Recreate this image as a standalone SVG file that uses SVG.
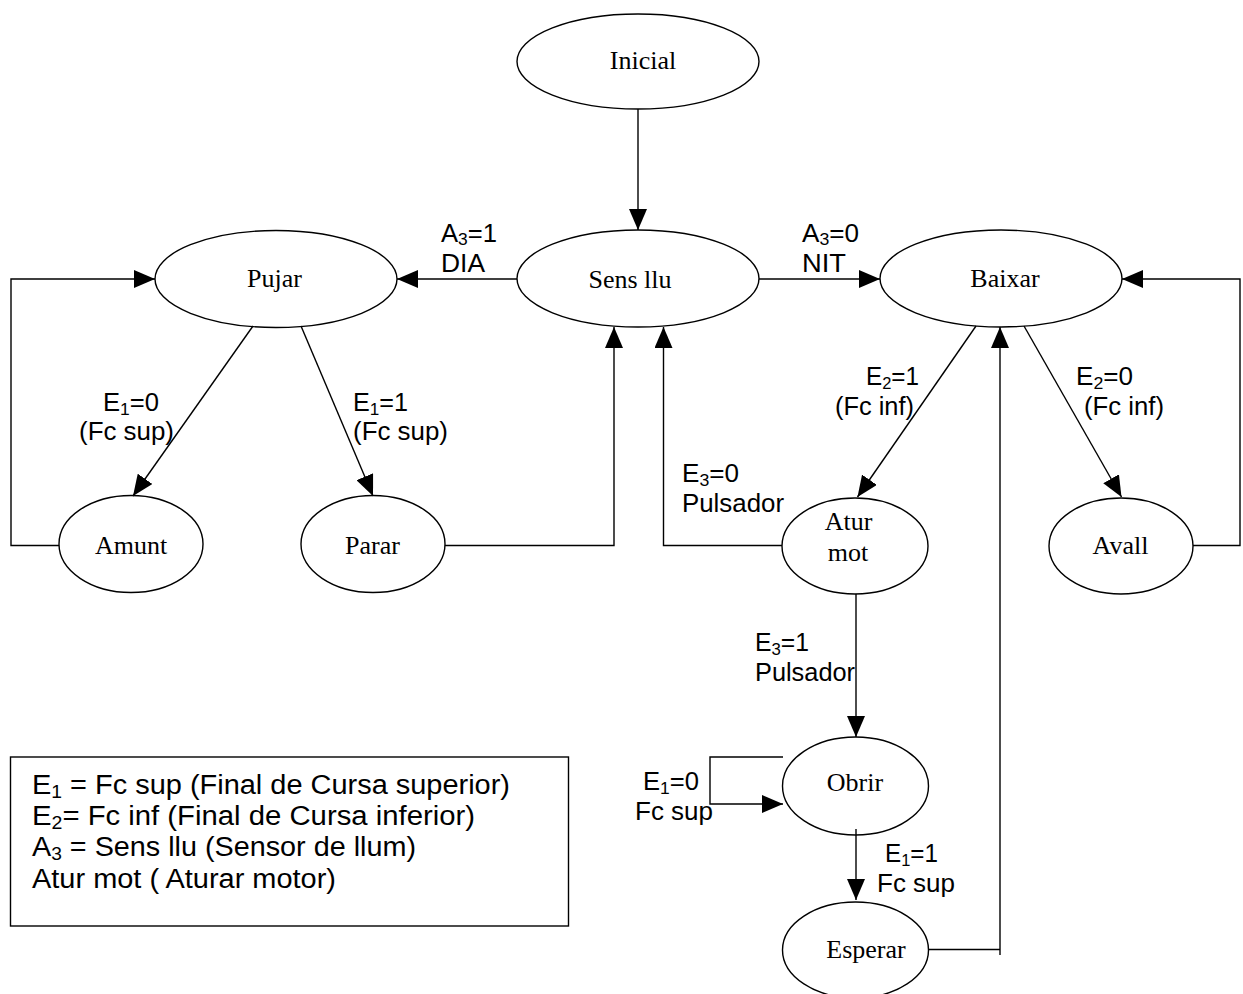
<svg xmlns="http://www.w3.org/2000/svg" width="1243" height="994" viewBox="0 0 1243 994">
<style>
.node ellipse{fill:#fff;stroke:#000;stroke-width:1.4}
.n{font-family:"Liberation Serif","Times New Roman",serif;font-size:26px;text-anchor:middle;fill:#000}
.c{fill:none;stroke:#000;stroke-width:1.4}
.l{font-family:"Liberation Sans",Arial,sans-serif;font-size:25px;fill:#000}
.lg{font-family:"Liberation Sans",Arial,sans-serif;font-size:27px;fill:#000}
.s{font-size:17px}
.s2{font-size:18px}
</style>
<defs>
<marker id="ah" markerUnits="userSpaceOnUse" markerWidth="21" markerHeight="18" refX="21" refY="9" orient="auto" viewBox="0 0 21 18">
<path d="M0,0 L21,9 L0,18 z" fill="#000"/>
</marker>
</defs>
<rect width="1243" height="994" fill="#fff"/>

<g id="node-inicial" class="node"><ellipse cx="638" cy="61.5" rx="121" ry="47.5"/><text class="n" x="643" y="69">Inicial</text></g>
<g id="node-sensllu" class="node"><ellipse cx="638" cy="278.5" rx="121" ry="48.5"/><text class="n" x="630" y="288">Sens llu</text></g>
<g id="node-pujar" class="node"><ellipse cx="276" cy="279" rx="121" ry="48.5"/><text class="n" x="274.5" y="287">Pujar</text></g>
<g id="node-baixar" class="node"><ellipse cx="1001" cy="278.5" rx="121" ry="48.5"/><text class="n" x="1005" y="287">Baixar</text></g>
<g id="node-amunt" class="node"><ellipse cx="131" cy="544" rx="72" ry="48.5"/><text class="n" x="131" y="554">Amunt</text></g>
<g id="node-parar" class="node"><ellipse cx="373" cy="544" rx="72" ry="48.5"/><text class="n" x="372.5" y="554">Parar</text></g>
<g id="node-aturmot" class="node"><ellipse cx="855" cy="546" rx="73" ry="48"/><text class="n" x="848.5" y="530">Atur</text><text class="n" x="848" y="561">mot</text></g>
<g id="node-avall" class="node"><ellipse cx="1121" cy="546" rx="72" ry="48"/><text class="n" x="1120.5" y="554">Avall</text></g>
<g id="node-obrir" class="node"><ellipse cx="855.5" cy="786" rx="73" ry="49"/><text class="n" x="855" y="791">Obrir</text></g>
<g id="node-esperar" class="node"><ellipse cx="855.5" cy="950" rx="73" ry="48"/><text class="n" x="866" y="958">Esperar</text></g>

<g id="connectors">
<path class="c" d="M638,109 V230" marker-end="url(#ah)"/>
<path class="c" d="M517,279 H397" marker-end="url(#ah)"/>
<path class="c" d="M759,279 H880" marker-end="url(#ah)"/>
<path class="c" d="M253,326 L133,496" marker-end="url(#ah)"/>
<path class="c" d="M301,326 L373,496" marker-end="url(#ah)"/>
<path class="c" d="M59,545.5 H11 V279 H155" marker-end="url(#ah)"/>
<path class="c" d="M445,545.5 H614 V327" marker-end="url(#ah)"/>
<path class="c" d="M976,326 L857.5,497" marker-end="url(#ah)"/>
<path class="c" d="M1024,326 L1121.5,497" marker-end="url(#ah)"/>
<path class="c" d="M1193,545.5 H1240 V279 H1122" marker-end="url(#ah)"/>
<path class="c" d="M782,545.5 H663.5 V327" marker-end="url(#ah)"/>
<path class="c" d="M856,594 V737" marker-end="url(#ah)"/>
<path class="c" d="M783,757 H710 V804 H783" marker-end="url(#ah)"/>
<path class="c" d="M856,829 V900" marker-end="url(#ah)"/>
<path class="c" d="M928,949.5 H1000"/>
<path class="c" d="M1000,955 V327" marker-end="url(#ah)"/>
</g>

<g id="labels">
<text class="l" x="441" y="242" textLength="56" lengthAdjust="spacingAndGlyphs">A<tspan class="s" dy="3">3</tspan><tspan dy="-3">=1</tspan></text>
<text class="l" x="441" y="272" textLength="44" lengthAdjust="spacingAndGlyphs">DIA</text>
<text class="l" x="802" y="242" textLength="57" lengthAdjust="spacingAndGlyphs">A<tspan class="s" dy="3">3</tspan><tspan dy="-3">=0</tspan></text>
<text class="l" x="802" y="272" textLength="44" lengthAdjust="spacingAndGlyphs">NIT</text>
<text class="l" x="103" y="411" textLength="56" lengthAdjust="spacingAndGlyphs">E<tspan class="s" dy="4">1</tspan><tspan dy="-4">=0</tspan></text>
<text class="l" x="79" y="440" textLength="95" lengthAdjust="spacingAndGlyphs">(Fc sup)</text>
<text class="l" x="353" y="411" textLength="55" lengthAdjust="spacingAndGlyphs">E<tspan class="s" dy="4">1</tspan><tspan dy="-4">=1</tspan></text>
<text class="l" x="353" y="440" textLength="95" lengthAdjust="spacingAndGlyphs">(Fc sup)</text>
<text class="l" x="866" y="385" textLength="53" lengthAdjust="spacingAndGlyphs">E<tspan class="s" dy="4">2</tspan><tspan dy="-4">=1</tspan></text>
<text class="l" x="835" y="415" textLength="79" lengthAdjust="spacingAndGlyphs">(Fc inf)</text>
<text class="l" x="1076" y="385" textLength="57" lengthAdjust="spacingAndGlyphs">E<tspan class="s" dy="4">2</tspan><tspan dy="-4">=0</tspan></text>
<text class="l" x="1084" y="415" textLength="80" lengthAdjust="spacingAndGlyphs">(Fc inf)</text>
<text class="l" x="682" y="482" textLength="57" lengthAdjust="spacingAndGlyphs">E<tspan class="s" dy="4">3</tspan><tspan dy="-4">=0</tspan></text>
<text class="l" x="682" y="512" textLength="102" lengthAdjust="spacingAndGlyphs">Pulsador</text>
<text class="l" x="755" y="651" textLength="54" lengthAdjust="spacingAndGlyphs">E<tspan class="s" dy="4">3</tspan><tspan dy="-4">=1</tspan></text>
<text class="l" x="755" y="681" textLength="100" lengthAdjust="spacingAndGlyphs">Pulsador</text>
<text class="l" x="643" y="790" textLength="56" lengthAdjust="spacingAndGlyphs">E<tspan class="s" dy="4">1</tspan><tspan dy="-4">=0</tspan></text>
<text class="l" x="635" y="820" textLength="78" lengthAdjust="spacingAndGlyphs">Fc sup</text>
<text class="l" x="885" y="862" textLength="53" lengthAdjust="spacingAndGlyphs">E<tspan class="s" dy="4">1</tspan><tspan dy="-4">=1</tspan></text>
<text class="l" x="877" y="892" textLength="78" lengthAdjust="spacingAndGlyphs">Fc sup</text>
</g>

<g id="legend">
<rect x="10.5" y="757" width="558" height="169" fill="none" stroke="#000" stroke-width="1.4"/>
<text class="lg" x="32" y="794" textLength="478" lengthAdjust="spacingAndGlyphs">E<tspan class="s2" dy="4">1</tspan><tspan dy="-4"> = Fc sup (Final de Cursa superior)</tspan></text>
<text class="lg" x="32" y="825" textLength="443" lengthAdjust="spacingAndGlyphs">E<tspan class="s2" dy="4">2</tspan><tspan dy="-4">= Fc inf (Final de Cursa inferior)</tspan></text>
<text class="lg" x="32" y="856" textLength="384" lengthAdjust="spacingAndGlyphs">A<tspan class="s2" dy="4">3</tspan><tspan dy="-4"> = Sens llu (Sensor de llum)</tspan></text>
<text class="lg" x="32" y="888" textLength="304" lengthAdjust="spacingAndGlyphs">Atur mot ( Aturar motor)</text>
</g>
</svg>
